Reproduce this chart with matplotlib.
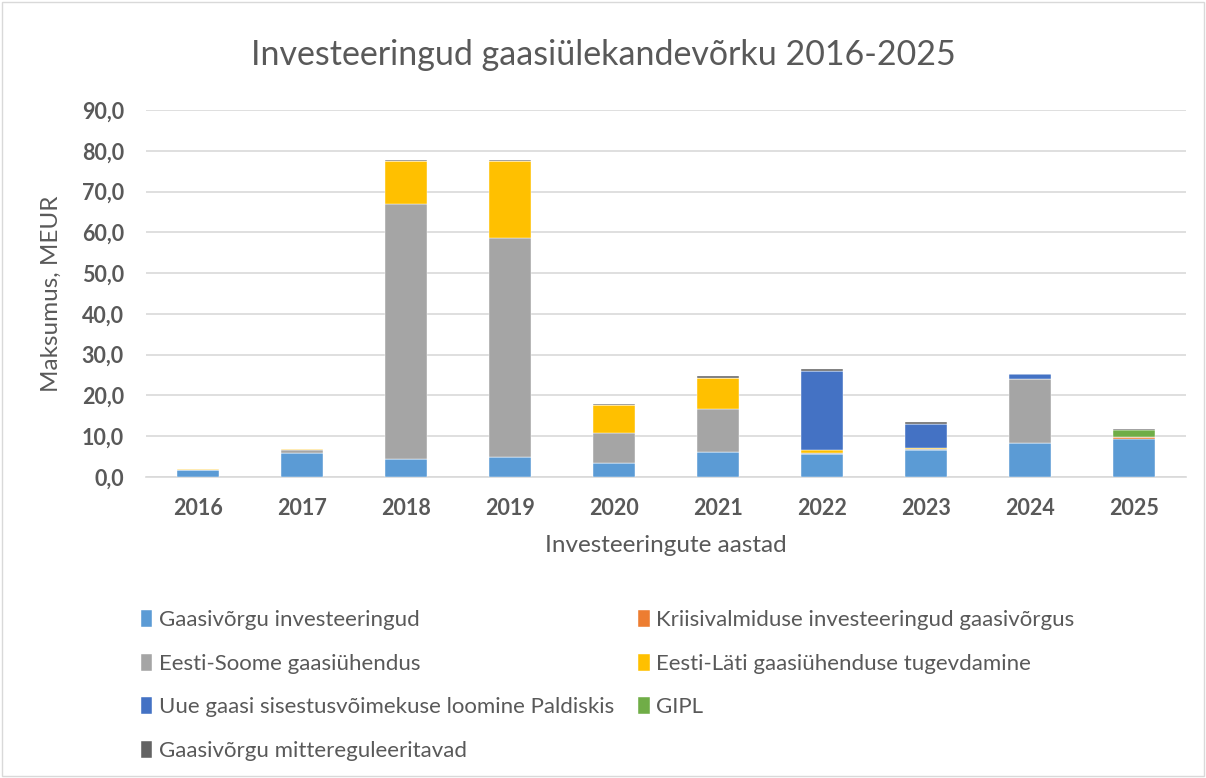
import matplotlib.pyplot as plt
import numpy as np
from matplotlib.patches import Rectangle

# Data
years = ['2016', '2017', '2018', '2019', '2020', '2021', '2022', '2023', '2024', '2025']
gaasivorgu = [1.8, 6.0, 4.3, 5.0, 3.5, 6.2, 5.7, 6.5, 8.3, 9.3]
kriisivalmidus = [0.0, 0.0, 0.0, 0.0, 0.0, 0.0, 0.0, 0.0, 0.0, 0.4]
eesti_soome = [0.0, 0.7, 62.6, 53.7, 7.4, 10.5, 0.3, 0.3, 15.7, 0.0]
eesti_lati = [0.1, 0.1, 10.6, 18.8, 6.7, 7.6, 0.6, 0.3, 0.0, 0.0]
paldiski = [0.0, 0.0, 0.0, 0.0, 0.0, 0.0, 19.5, 6.0, 1.2, 0.0]
gipl = [0.0, 0.0, 0.0, 0.0, 0.0, 0.0, 0.0, 0.0, 0.0, 1.9]
mitteregul = [0.0, 0.0, 0.2, 0.3, 0.4, 0.4, 0.3, 0.5, 0.1, 0.2]

series = [
    ('Gaasivõrgu investeeringud', gaasivorgu, '#5B9BD5'),
    ('Kriisivalmiduse investeeringud gaasivõrgus', kriisivalmidus, '#ED7D31'),
    ('Eesti-Soome gaasiühendus', eesti_soome, '#A5A5A5'),
    ('Eesti-Läti gaasiühenduse tugevdamine', eesti_lati, '#FFC000'),
    ('Uue gaasi sisestusvõimekuse loomine Paldiskis', paldiski, '#4472C4'),
    ('GIPL', gipl, '#70AD47'),
    ('Gaasivõrgu mittereguleeritavad', mitteregul, '#636363'),
]

plt.rcParams['font.family'] = ['Lato', 'DejaVu Sans']
text_color = '#595959'

fig = plt.figure(figsize=(12.06, 7.78), dpi=100)
ax = fig.add_axes([146 / 1206, 1 - 477 / 778, 1040 / 1206, 367 / 778])

x = np.arange(len(years))
bottom = np.zeros(len(years))
handles = []
for name, vals, col in series:
    vals = np.array(vals)
    b = ax.bar(x, vals, width=0.4, bottom=bottom, color=col, label=name,
               edgecolor='white', linewidth=0.3, zorder=3)
    handles.append(b)
    bottom += vals

ax.set_xlim(-0.5, 9.5)
ax.set_ylim(0, 90)
ax.set_yticks(np.arange(0, 91, 10))
ax.set_yticklabels([f'{v:.1f}'.replace('.', ',') for v in np.arange(0, 91, 10)])
ax.set_xticks(x)
ax.set_xticklabels(years)
for lbl in ax.get_xticklabels() + ax.get_yticklabels():
    lbl.set_fontweight('bold')
    lbl.set_fontsize(15.5)
    lbl.set_color(text_color)
ax.tick_params(axis='both', length=0)
ax.tick_params(axis='x', pad=15)
ax.tick_params(axis='y', pad=16)
ax.grid(axis='y', color='#D9D9D9', linewidth=1.2, zorder=0)
for s in ['top', 'right', 'left']:
    ax.spines[s].set_visible(False)
ax.spines['bottom'].set_color('#D9D9D9')
ax.spines['bottom'].set_linewidth(1.2)

ax.set_ylabel('Maksumus, MEUR', fontsize=17.5, color=text_color, labelpad=14)
ax.set_xlabel('Investeeringute aastad', fontsize=17.5, color=text_color, labelpad=12)
fig.text(0.5, 1 - 55 / 778, 'Investeeringud gaasiülekandevõrku 2016-2025', ha='center',
         va='center', fontsize=24.5, color=text_color)

# legend in row-major order
order = [0, 2, 4, 6, 1, 3, 5]
leg = fig.legend([handles[i] for i in order], [series[i][0] for i in order],
                 ncol=2, loc='upper left', bbox_to_anchor=(121 / 1206, 1 - 590 / 778),
                 frameon=False, fontsize=16, labelcolor=text_color,
                 handlelength=0.5, handleheight=0.8, handletextpad=0.3,
                 columnspacing=1.1, labelspacing=1.05)

fig.patches.append(Rectangle((0.002, 0.002), 0.996, 0.996, transform=fig.transFigure,
                             fill=False, edgecolor='#D9D9D9', linewidth=1))

fig.savefig('out.png', dpi=100)
